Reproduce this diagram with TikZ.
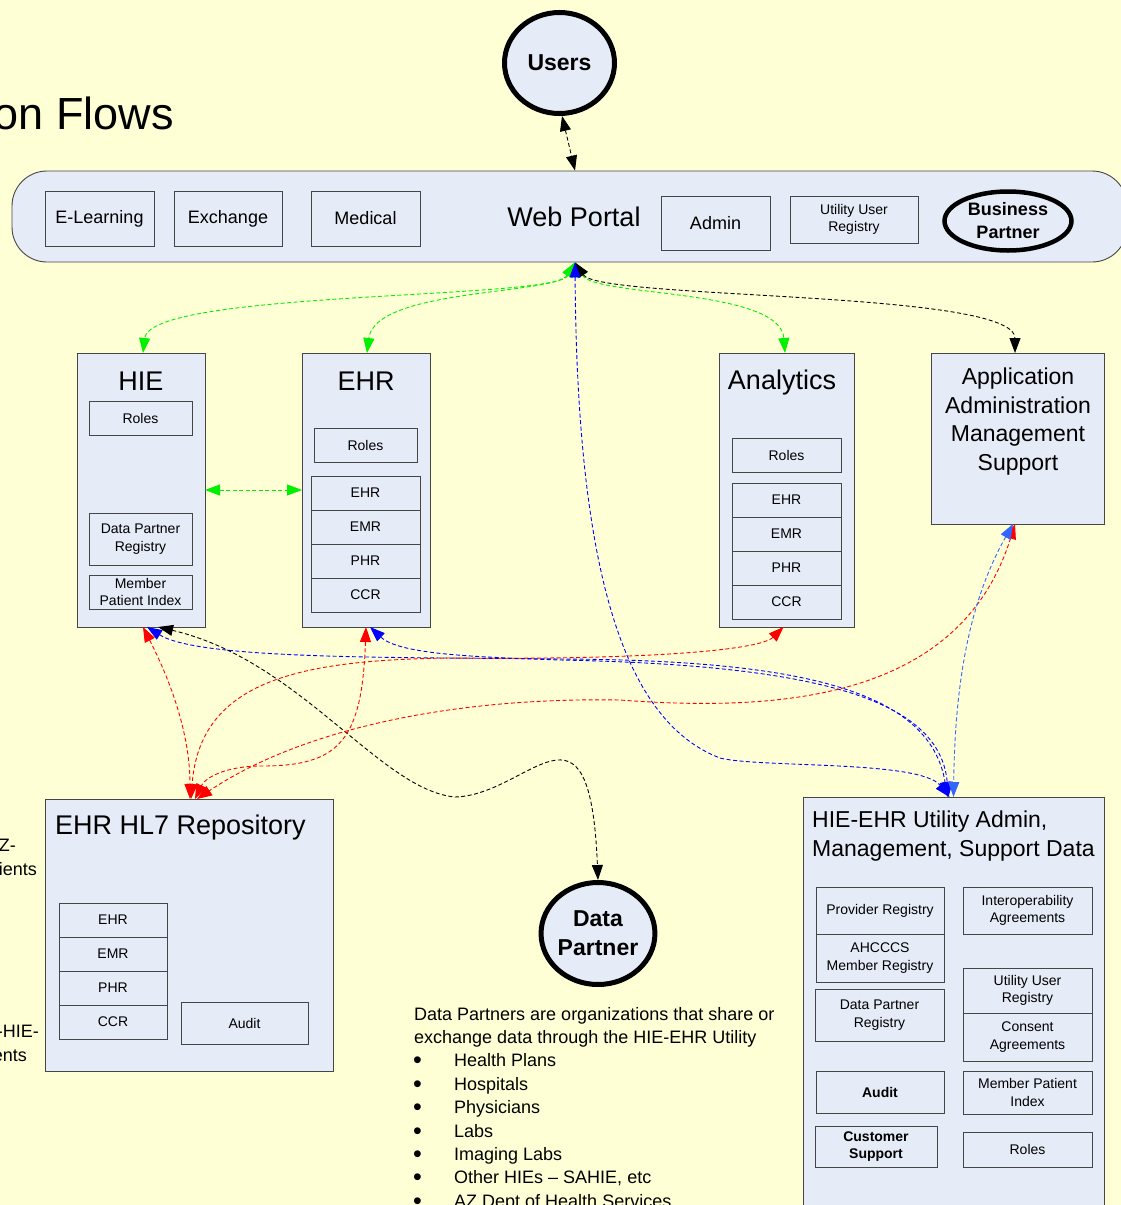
\documentclass[tikz,border=0pt]{standalone}
\usepackage{fontspec}
\setmainfont{Liberation Sans}
\usetikzlibrary{arrows.meta,shapes.geometric}

\definecolor{paper}{RGB}{255,255,214}
\definecolor{panel}{RGB}{230,236,247}
\definecolor{edge}{RGB}{70,70,70}
\definecolor{flowgreen}{RGB}{0,240,0}
\definecolor{flowblue}{RGB}{0,0,255}
\definecolor{flowred}{RGB}{255,0,0}
\definecolor{flowsky}{RGB}{51,102,255}

% box given by its corners (x1,y1) (x2,y2) in pixel units
\newcommand\pbx[7][]{\node[pbox,#1,minimum width={(#5)-(#3)},minimum height={(#6)-(#4)}] (#2) at ({((#3)+(#5))/2},{((#4)+(#6))/2}) {#7};}

\tikzset{
  pbox/.style={draw=edge, fill=panel, line width=0.9pt, rectangle, inner sep=1pt, outer sep=0pt, align=center, font=\fontsize{14}{17.5}\selectfont},
  t14/.style={font=\fontsize{14}{17.5}\selectfont},
  t18/.style={font=\fontsize{18}{23}\selectfont},
  t23/.style={font=\fontsize{23}{28.5}\selectfont},
  t27/.style={font=\fontsize{27}{32}\selectfont},
  blob/.style={ellipse, draw=black, fill=panel, line width=5pt, inner sep=0pt, align=center, font=\bfseries\fontsize{23}{29}\selectfont},
  flow/.style={line width=0.9pt, dash pattern=on 4pt off 2.5pt,
    {Triangle[length=15pt,width=11pt]}-{Triangle[length=15pt,width=11pt]}},
}

\begin{document}
\begin{tikzpicture}[x=1pt,y=-1pt]
\path[use as bounding box, fill=paper] (0,0) rectangle (1121,1205);
\clip (0,0) rectangle (1121,1205);

% heading and text running in from the left
\node[font=\fontsize{45}{54}\selectfont, anchor=base east, inner sep=0] (heading) at (174,129) {on Flows};
\node[t18, anchor=base east, inner sep=0] (lt1) at (16,851) {Z-};
\node[t18, anchor=base east, inner sep=0] (lt2) at (37,875) {ients};
\node[t18, anchor=base east, inner sep=0] (lt3) at (39,1037) {-HIE-};
\node[t18, anchor=base east, inner sep=0] (lt4) at (27,1061) {ents};

% users
\node[blob, minimum width=110, minimum height=101] (users) at (559.5,63) {Users};

% web portal
\node[draw=edge, fill=panel, line width=0.9pt, rounded corners=35pt, minimum width=1115, minimum height=91, inner sep=0] (portal) at (569.5,216.5) {};
\node[t27, anchor=base, inner sep=0] (portalT) at (574,226) {Web Portal};
\pbx[font=\fontsize{18}{22}\selectfont]{elearn}{45}{191}{154}{246}{E-Learning}
\pbx[font=\fontsize{18}{22}\selectfont]{exch}{174}{191}{282}{246}{Exchange}
\pbx[font=\fontsize{18}{22}\selectfont]{medical}{311}{191}{420}{246}{Medical}
\pbx[font=\fontsize{18}{22}\selectfont]{admin}{661}{196}{770}{250}{Admin}
\pbx{uur}{790}{196}{918}{243}{Utility User\\Registry}
\node[blob, line width=4.5pt, minimum width=127, minimum height=59, font=\bfseries\fontsize{18}{23}\selectfont] (bp) at (1008,221) {Business\\Partner};

% HIE
\pbx{hie}{77}{353}{205}{627}{}
\node[t27, anchor=base, inner sep=0] (hieT) at (141,390) {HIE};
\pbx{hieroles}{89}{401}{192}{435}{Roles}
\pbx{hiedpr}{89}{513}{192}{565}{Data Partner\\Registry}
\pbx[font=\fontsize{14}{17}\selectfont]{hiempi}{89}{575}{192}{609}{Member\\Patient Index}

% EHR
\pbx{ehr}{302}{353}{430}{627}{}
\node[t27, anchor=base, inner sep=0] (ehrT) at (366,390) {EHR};
\pbx{ehrroles}{314}{428}{417}{462}{Roles}
\pbx{ehrA}{311}{476}{420}{510}{EHR}
\pbx{ehrB}{311}{510}{420}{544}{EMR}
\pbx{ehrC}{311}{544}{420}{578}{PHR}
\pbx{ehrD}{311}{578}{420}{612}{CCR}

% Analytics
\pbx{ana}{719}{353}{854}{627}{}
\node[t27, anchor=base, inner sep=0] (anaT) at (782,389) {Analytics};
\pbx{anaroles}{732}{438}{841}{472}{Roles}
\pbx{anaA}{732}{483}{841}{517}{EHR}
\pbx{anaB}{732}{517}{841}{551}{EMR}
\pbx{anaC}{732}{551}{841}{585}{PHR}
\pbx{anaD}{732}{585}{841}{619}{CCR}

% application administration
\pbx{aam}{931}{353}{1104}{524}{}
\node[font=\fontsize{23}{28.4}\selectfont, align=center, inner sep=0] (aamT) at (1018,421.5) {Application\\Administration\\Management\\Support};

% EHR HL7 repository
\pbx{hl7}{45}{799}{333}{1071}{}
\node[font=\fontsize{27}{32}\selectfont, anchor=base west, inner sep=0] (hl7T) at (55,834) {EHR HL7 Repository};
\pbx{hl7A}{59}{903}{167}{937}{EHR}
\pbx{hl7B}{59}{937}{167}{971}{EMR}
\pbx{hl7C}{59}{971}{167}{1005}{PHR}
\pbx{hl7D}{59}{1005}{167}{1039}{CCR}
\pbx{hl7audit}{181}{1002}{308}{1044}{Audit}

% utility admin data
\pbx{util}{803}{797}{1104}{1230}{}
\node[t23, anchor=north west, align=left, inner sep=0] (utilT) at (812,811) {HIE-EHR Utility Admin,\\Management, Support Data};
\pbx{uprov}{816}{887}{944}{934}{Provider Registry}
\pbx{uahc}{816}{934}{944}{982}{AHCCCS\\Member Registry}
\pbx{udpr}{815}{989}{944}{1041}{Data Partner\\Registry}
\pbx[font=\bfseries\fontsize{14}{17.5}\selectfont]{uaudit}{816}{1071}{944}{1113}{Audit}
\pbx[font=\bfseries\fontsize{14}{17.5}\selectfont]{ucs}{815}{1126}{937}{1167}{Customer\\Support}
\pbx{uint}{963}{887}{1092}{934}{Interoperability\\Agreements}
\pbx{uuur}{963}{968}{1092}{1013}{Utility User\\Registry}
\pbx{ucons}{963}{1013}{1092}{1061}{Consent\\Agreements}
\pbx{umpi}{963}{1071}{1092}{1114}{Member Patient\\Index}
\pbx{uroles}{963}{1132}{1092}{1167}{Roles}

% data partner
\node[blob, minimum width=111, minimum height=102] (dp) at (598,933.5) {Data\\Partner};

\node[t18, anchor=base west, inner sep=0] (d1) at (414,1020) {Data Partners are organizations that share or};
\node[t18, anchor=base west, inner sep=0] (d2) at (414,1043.4) {exchange data through the HIE-EHR Utility};
\foreach \item [count=\i] in {Health Plans,Hospitals,Physicians,Labs,Imaging Labs,{Other HIEs – SAHIE, etc},AZ Dept of Health Services}{
  \node[font=\fontsize{25}{25}\selectfont, anchor=base west, inner sep=0] (bul\i) at (413,{1045.4+23.4*\i}) {•};
  \node[t18, anchor=base west, inner sep=0] (itm\i) at (454,{1043.4+23.4*\i}) {\item};
}

% flows
\coordinate (hub) at ([xshift=5.5]portal.south);
\draw[flow] ([xshift=2.5]users.south) -- ([xshift=5.5]portal.north);

\draw[flow, flowgreen] (hub) .. controls (555,300) and (150,290) .. ([xshift=2]hie.north);
\draw[flow, flowgreen] (hub) .. controls (555,295) and (375,288) .. ([xshift=1]ehr.north);
\draw[flow, flowgreen] (hub) .. controls (595,297) and (780,288) .. ([xshift=-1.5]ana.north);
\draw[flow, black] (hub) .. controls (600,300) and (1015,290) .. ([xshift=-2.5]aam.north);
\draw[flow, flowgreen] (hie.east) -- (ehr.west);

\draw[flow, flowblue] (hub) .. controls (577,560) and (620,720) .. (720,758) .. controls (760,768) and (920,760) .. ([xshift=-4]util.north);
\draw[flow, flowblue] ([xshift=6]hie.south) .. controls (200,660) and (400,657) .. (560,659) .. controls (800,660) and (930,690) .. ([xshift=-6]util.north);
\draw[flow, flowblue] ([xshift=4]ehr.south) .. controls (400,655) and (480,657) .. (560,660) .. controls (820,665) and (940,700) .. ([xshift=-5]util.north);

\draw[flow, black] ([xshift=17]hie.south) .. controls (300,660) and (380,790) .. (455,797) .. controls (530,795) and (590,680) .. (dp.north);

\draw[flow, flowred] ([xshift=2]hie.south) .. controls (175,690) and (190,740) .. ([xshift=1]hl7.north);
\draw[flow, flowred] (ehr.south) .. controls (362,740) and (340,766) .. (262,766) .. controls (225,766) and (205,778) .. ([xshift=6]hl7.north);
\draw[flow, flowred] ([xshift=-3]ana.south) .. controls (760,650) and (650,660) .. (450,658) .. controls (300,660) and (200,680) .. ([xshift=2]hl7.north);
\draw[flow, flowred] ([xshift=-2.5]aam.south) .. controls (960,700) and (780,712) .. (620,700) .. controls (450,697) and (300,730) .. ([xshift=8]hl7.north);
\draw[flow, flowsky] ([xshift=-4.5]aam.south) .. controls (970,600) and (955,680) .. (util.north);
\end{tikzpicture}
\end{document}
